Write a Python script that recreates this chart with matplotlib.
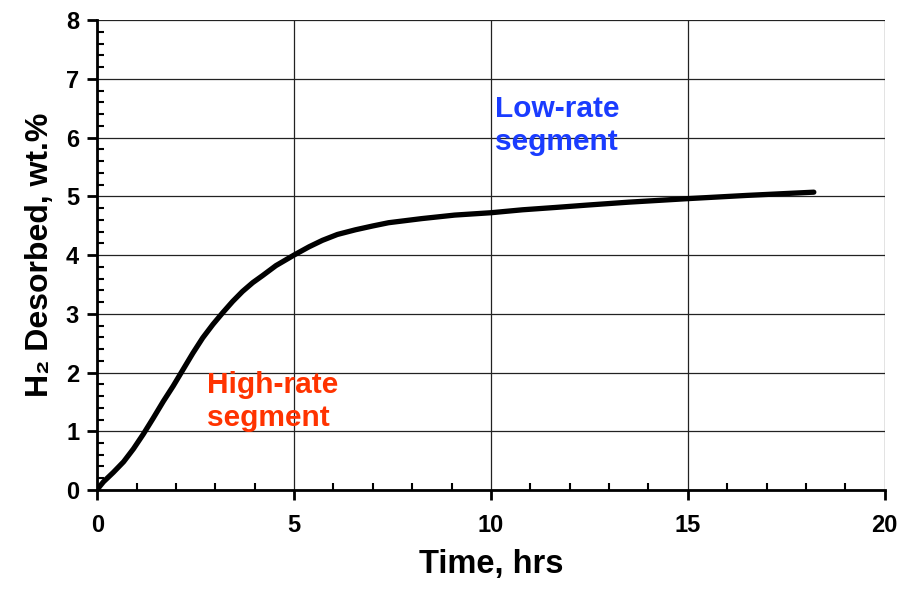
import numpy as np
import matplotlib
matplotlib.use('Agg')
import matplotlib.pyplot as plt
from matplotlib.ticker import MultipleLocator

# ── Data ─────────────────────────────────────────────────────────────────────
time_hrs = [0.0, 0.05, 0.16, 0.41, 0.67, 0.92, 1.17, 1.42, 1.68, 1.93, 2.18,
            2.43, 2.68, 2.94, 3.19, 3.44, 3.69, 3.95, 4.2, 4.54, 5.0, 5.38,
            5.72, 6.1, 6.56, 7.0, 7.4, 8.24, 9.08, 10.0, 10.8, 11.64, 12.44,
            13.5, 15.0, 16.5, 18.2]
h2_wt = [0.0, 0.05, 0.14, 0.3, 0.48, 0.7, 0.95, 1.22, 1.51, 1.77, 2.05,
         2.33, 2.59, 2.82, 3.02, 3.21, 3.38, 3.53, 3.65, 3.82, 4.0, 4.14,
         4.25, 4.35, 4.43, 4.495, 4.55, 4.62, 4.68, 4.72, 4.77, 4.81, 4.85,
         4.9, 4.96, 5.015, 5.07]

plt.rcParams['font.family'] = ['Liberation Sans', 'DejaVu Sans']
plt.rcParams['font.weight'] = 'bold'

fig = plt.figure(figsize=(9, 5.9), dpi=100)
ax = fig.add_axes([0.108, 0.1695, 0.875, 0.7965])

ax.plot(time_hrs, h2_wt, color='black', lw=3.8, solid_capstyle='round',
        solid_joinstyle='round', zorder=3)

ax.set_xlim(0, 20)
ax.set_ylim(0, 8)
ax.xaxis.set_major_locator(MultipleLocator(5))
ax.xaxis.set_minor_locator(MultipleLocator(1))
ax.yaxis.set_major_locator(MultipleLocator(1))
ax.yaxis.set_minor_locator(MultipleLocator(0.2))
ax.grid(True, which='major', color='#222222', lw=0.9)

for side in ['top', 'right']:
    ax.spines[side].set_visible(False)
for side in ['left', 'bottom']:
    ax.spines[side].set_linewidth(2)

ax.tick_params(which='major', direction='out', length=7, width=2,
               labelsize=17, pad=10)
ax.tick_params(axis='y', which='major', pad=6)
ax.tick_params(which='minor', direction='in', length=5, width=1.5)
for lbl in ax.get_xticklabels() + ax.get_yticklabels():
    lbl.set_fontweight('bold')

ax.set_xlabel('Time, hrs', fontsize=23.5, fontweight='bold', labelpad=9)
ax.set_ylabel('H\u2082 Desorbed, wt.%', fontsize=23, fontweight='bold', labelpad=8)

ax.text(2.8, 2.02, 'High-rate\nsegment', color='#ff3300', fontsize=21.5,
        fontweight='bold', va='top', ha='left', linespacing=1.2)
ax.text(10.1, 6.72, 'Low-rate\nsegment', color='#1a3cff', fontsize=21.5,
        fontweight='bold', va='top', ha='left', linespacing=1.2)

fig.savefig('out.png', dpi=100)
